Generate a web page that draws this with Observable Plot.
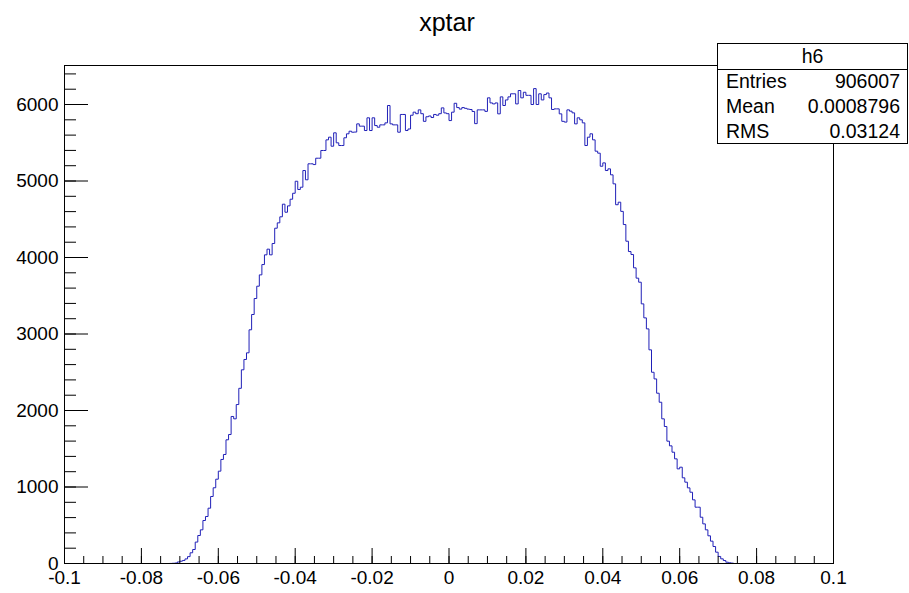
<!DOCTYPE html>
<html><head><meta charset="utf-8">
<script src="https://cdn.jsdelivr.net/npm/d3@7"></script>
<script src="https://cdn.jsdelivr.net/npm/@observablehq/plot@0.6"></script>
<style>
html,body{margin:0;padding:0;background:#fff;}
#chart{position:relative;width:909px;height:593px;}
</style></head><body><div id="chart"></div>
<script>
const title = "xptar";
const histName = "h6";
const xRange = [-0.1, 0.1];
const nBins = 300;
const firstBin = 41;
const counts = [
  1, 3, 6, 20, 30, 40, 60, 90, 140, 183,
  280, 366, 440, 562, 614, 723, 876, 990, 1102, 1207,
  1360, 1425, 1617, 1686, 1922, 1891, 2078, 2290, 2532, 2667,
  2754, 3055, 3255, 3464, 3625, 3773, 3908, 4035, 4109, 4035,
  4183, 4383, 4453, 4532, 4697, 4592, 4675, 4762, 4840, 4997,
  4889, 4919, 5137, 5016, 5225, 5225, 5215, 5298, 5298, 5399,
  5399, 5538, 5573, 5455, 5630, 5499, 5464, 5464, 5565, 5617,
  5651, 5638, 5640, 5747, 5717, 5717, 5660, 5826, 5660, 5826,
  5725, 5703, 5734, 5734, 5760, 5987, 5747, 5734, 5734, 5638,
  5870, 5870, 5660, 5680, 5860, 5900, 5880, 5930, 5880, 5780,
  5840, 5850, 5830, 5870, 5860, 5880, 5956, 5890, 5880, 5790,
  5900, 6016, 5960, 5940, 5960, 5950, 5940, 5935, 5909, 5750,
  5930, 5930, 5930, 5910, 6087, 6021, 6008, 6021, 5878, 6100,
  5987, 6060, 6100, 6140, 6140, 6008, 6183, 6087, 6160, 6120,
  6120, 6000, 6208, 6000, 6140, 6060, 6130, 6150, 6087, 5935,
  5943, 5943, 5878, 5780, 5770, 5930, 5913, 5891, 5747, 5826,
  5800, 5760, 5464, 5573, 5617, 5538, 5390, 5364, 5193, 5237,
  5137, 5159, 5081, 4963, 4690, 4723, 4603, 4431, 4213, 4078,
  4039, 3865, 3730, 3677, 3394, 3211, 3067, 2793, 2500, 2413,
  2226, 2108, 1891, 1791, 1599, 1538, 1455, 1368, 1237, 1259,
  1120, 1063, 989, 932, 832, 736, 736, 605, 518, 440,
  362, 292, 222, 148, 92, 61, 39, 17, 9, 5
];
const statLabels = ["Entries", "Mean", "RMS"];
const statValues = ["906007", "0.0008796", "0.03124"];
const xTickValues = [-0.1, -0.08, -0.06, -0.04, -0.02, 0, 0.02, 0.04, 0.06, 0.08, 0.1];
const xTickLabels = ["-0.1", "-0.08", "-0.06", "-0.04", "-0.02", "0", "0.02", "0.04", "0.06", "0.08", "0.1"];
const yTickValues = [0, 1000, 2000, 3000, 4000, 5000, 6000];
const yTickLabels = ["0", "1000", "2000", "3000", "4000", "5000", "6000"];
const xMinorStep = 0.005;
const yMinorStep = 200;
const yMax = 6510;

const W = 909, H = 593, mL = 64, mR = 76, mT = 65, mB = 30;
const fw = W - mL - mR, fh = H - mT - mB;
const binW = (xRange[1] - xRange[0]) / nBins;
const pts = [{x: xRange[0], y: 0}];
counts.forEach((c, i) => pts.push({x: xRange[0] + (firstBin + i) * binW, y: c}));
pts.push({x: xRange[0] + (firstBin + counts.length) * binW, y: 0});
pts.push({x: xRange[1], y: 0});

const xMinor = d3.range(xRange[0], xRange[1] + 1e-9, xMinorStep);
const yMinor = d3.range(0, yMax, yMinorStep);
const font = "'Liberation Sans', Arial, Helvetica, sans-serif";

const plot = Plot.plot({
  width: W, height: H,
  marginLeft: mL, marginRight: mR, marginTop: mT, marginBottom: mB,
  style: {fontFamily: font, fontSize: "19px", color: "black", background: "white", overflow: "visible"},
  x: {domain: xRange},
  y: {domain: [0, yMax]},
  marks: [
    Plot.line(pts, {x: "x", y: "y", curve: "step-after", stroke: "#2020b8", strokeWidth: 1}),
    Plot.tickY(yMinor, {y: d => d, insetRight: fw - 12, stroke: "black"}),
    Plot.tickY(yTickValues, {y: d => d, insetRight: fw - 24, stroke: "black"}),
    Plot.tickX(xMinor, {x: d => d, insetTop: fh - 7, stroke: "black"}),
    Plot.tickX(xTickValues, {x: d => d, insetTop: fh - 15, stroke: "black"}),
    Plot.frame({stroke: "black"}),
    Plot.axisY({ticks: yTickValues, tickSize: 0, tickPadding: 6, label: null,
      tickFormat: d => yTickLabels[yTickValues.indexOf(d)]}),
    Plot.axisX({ticks: xTickValues, tickSize: 0, tickPadding: 7, label: null,
      tickFormat: d => xTickLabels[xTickValues.indexOf(d)]})
  ]
});
document.getElementById("chart").appendChild(plot);

const svg = d3.select(plot);
svg.append("text").attr("x", 447).attr("y", 31).attr("text-anchor", "middle")
  .attr("font-family", font).attr("font-size", 25).attr("fill", "black").text(title);

const bx = 717, by = 43, bw = 191, bh = 100, sep = 69;
const g = svg.append("g").attr("font-family", font).attr("font-size", 19.5).attr("fill", "black");
g.append("rect").attr("x", bx + 0.5).attr("y", by + 0.5).attr("width", bw - 1).attr("height", bh)
  .attr("fill", "white").attr("stroke", "black");
g.append("line").attr("x1", bx).attr("x2", bx + bw).attr("y1", sep + 0.5).attr("y2", sep + 0.5).attr("stroke", "black");
g.append("text").attr("x", bx + bw / 2).attr("y", (by + sep) / 2 + 7).attr("text-anchor", "middle").text(histName);
const rowH = (by + bh - sep) / statLabels.length;
statLabels.forEach((l, i) => {
  const cy = sep + rowH * (i + 0.5) + 7;
  g.append("text").attr("x", bx + 9).attr("y", cy).attr("text-anchor", "start").text(l);
  g.append("text").attr("x", bx + bw - 8).attr("y", cy).attr("text-anchor", "end").text(statValues[i]);
});
</script></body></html>
